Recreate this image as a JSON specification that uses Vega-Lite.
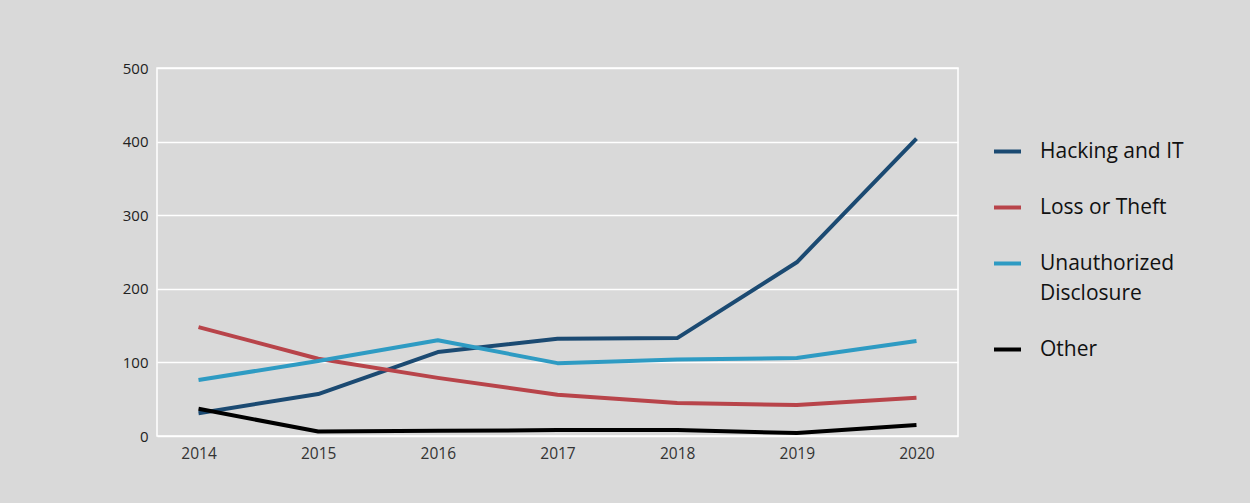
{
  "$schema": "https://vega.github.io/schema/vega-lite/v6.json",
  "autosize": "none",
  "width": 801,
  "height": 368,
  "padding": {"left": 157, "top": 68, "right": 292, "bottom": 67},
  "background": "#d9d9d9",
  "config": {
    "view": {"stroke": "#ffffff", "strokeWidth": 1.5, "fill": "#d9d9d9"},
    "font": "Open Sans"
  },
  "data": {
    "values": [
      {"year": "2014", "type": "Hacking and IT", "count": 31},
      {"year": "2015", "type": "Hacking and IT", "count": 57},
      {"year": "2016", "type": "Hacking and IT", "count": 114},
      {"year": "2017", "type": "Hacking and IT", "count": 132},
      {"year": "2018", "type": "Hacking and IT", "count": 133},
      {"year": "2019", "type": "Hacking and IT", "count": 236},
      {"year": "2020", "type": "Hacking and IT", "count": 404},
      {"year": "2014", "type": "Loss or Theft", "count": 148},
      {"year": "2015", "type": "Loss or Theft", "count": 105},
      {"year": "2016", "type": "Loss or Theft", "count": 79},
      {"year": "2017", "type": "Loss or Theft", "count": 56},
      {"year": "2018", "type": "Loss or Theft", "count": 45},
      {"year": "2019", "type": "Loss or Theft", "count": 42},
      {"year": "2020", "type": "Loss or Theft", "count": 52},
      {"year": "2014", "type": "Unauthorized Disclosure", "count": 76},
      {"year": "2015", "type": "Unauthorized Disclosure", "count": 102},
      {"year": "2016", "type": "Unauthorized Disclosure", "count": 130},
      {"year": "2017", "type": "Unauthorized Disclosure", "count": 99},
      {"year": "2018", "type": "Unauthorized Disclosure", "count": 104},
      {"year": "2019", "type": "Unauthorized Disclosure", "count": 106},
      {"year": "2020", "type": "Unauthorized Disclosure", "count": 129},
      {"year": "2014", "type": "Other", "count": 37},
      {"year": "2015", "type": "Other", "count": 6},
      {"year": "2016", "type": "Other", "count": 7},
      {"year": "2017", "type": "Other", "count": 8},
      {"year": "2018", "type": "Other", "count": 8},
      {"year": "2019", "type": "Other", "count": 4},
      {"year": "2020", "type": "Other", "count": 15}
    ]
  },
  "mark": {"type": "line", "strokeWidth": 4, "strokeJoin": "round"},
  "encoding": {
    "x": {
      "field": "year",
      "type": "ordinal",
      "scale": {"type": "point", "padding": 0.347},
      "axis": {
        "title": null,
        "labelAngle": 0,
        "labelFontSize": 15.5,
        "labelColor": "#333333",
        "labelPadding": 10,
        "ticks": false,
        "domain": false,
        "grid": false
      }
    },
    "y": {
      "field": "count",
      "type": "quantitative",
      "scale": {"domain": [0, 500], "nice": false},
      "axis": {
        "title": null,
        "values": [0, 100, 200, 300, 400, 500],
        "labelFontSize": 15,
        "labelColor": "#222222",
        "labelPadding": 9,
        "ticks": false,
        "domain": false,
        "grid": true,
        "gridColor": "#ffffff",
        "gridWidth": 1.5,
        "gridOpacity": 1
      }
    },
    "color": {
      "field": "type",
      "type": "nominal",
      "sort": ["Hacking and IT", "Loss or Theft", "Unauthorized Disclosure", "Other"],
      "scale": {
        "domain": ["Hacking and IT", "Loss or Theft", "Unauthorized Disclosure", "Other"],
        "range": ["#1b4a72", "#b8444a", "#2e9bc3", "#000000"]
      },
      "legend": {
        "title": null,
        "orient": "none",
        "legendX": 835,
        "legendY": 68,
        "symbolType": "stroke",
        "symbolSize": 729,
        "symbolStrokeWidth": 4,
        "labelFontSize": 21,
        "labelColor": "#111111",
        "labelOffset": 17,
        "labelLimit": 300,
        "rowPadding": 30,
        "labelExpr": "datum.label == 'Unauthorized Disclosure' ? ['Unauthorized', 'Disclosure'] : datum.label",
        "encode": {"labels": {"update": {"lineHeight": {"value": 30}}}}
      }
    }
  }
}
